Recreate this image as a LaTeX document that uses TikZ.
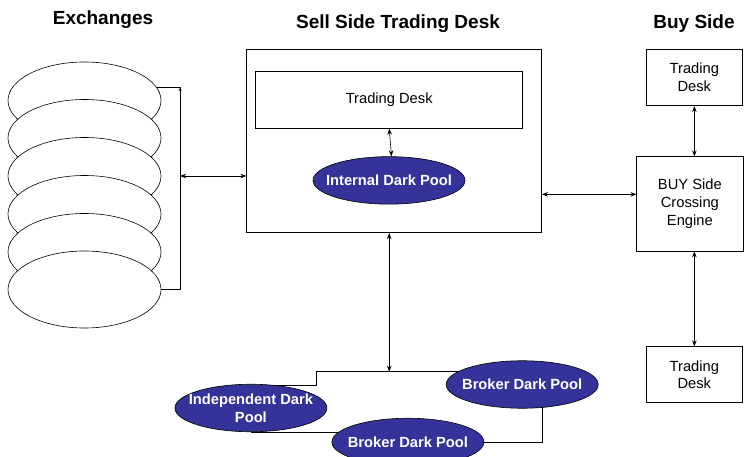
\documentclass[tikz,border=0pt]{standalone}
\usepackage{fontspec}
\setmainfont{Liberation Sans}
\usetikzlibrary{shapes.geometric,arrows.meta}
\definecolor{poolblue}{RGB}{51,51,153}
\tikzset{
  every node/.style={font=\fontsize{14.7}{17.7}\selectfont},
  heading/.style={font=\fontsize{19}{22}\selectfont\bfseries},
  exch/.style={ellipse,draw,fill=white,line width=0.6pt,inner sep=0pt,minimum width=153pt,minimum height=77pt},
  box/.style={draw,line width=0.6pt,inner sep=0pt,align=center},
  pool/.style={ellipse,draw,fill=poolblue,line width=0.6pt,inner xsep=-18pt,inner ysep=-3pt,minimum width=152pt,minimum height=47.5pt,text=white,align=center,font=\fontsize{14.7}{17.7}\selectfont\bfseries},
  link/.style={line width=0.6pt},
  dbl/.style={line width=0.6pt,{Stealth[length=6pt,width=4.5pt]}-{Stealth[length=6pt,width=4.5pt]}},
}
\begin{document}
\begin{tikzpicture}[x=1pt,y=-1pt]
\useasboundingbox (0,0) rectangle (744,457);
% headings
\node[heading] (hex) at (103,20) {Exchanges};
\node[heading] (hsell) at (398,24) {Sell Side Trading Desk};
\node[heading] (hbuy) at (694,24) {Buy Side};
% bracket
\coordinate (bt) at (180,87);
\coordinate (bb) at (180,289);
\coordinate (bm) at (180,176);
\coordinate (b1) at (140,87);
\coordinate (b6) at (140,289);
\draw[link] (b1) -- (bt) -- (bb) -- (b6);
\draw[link,-{Stealth[length=3pt,width=3pt]}] (bm) -- ([yshift=-1pt]bt);
% exchanges
\node[exch] (ex1) at (84.5,100.5) {};
\node[exch] (ex2) at (84.5,138) {};
\node[exch] (ex3) at (84.5,176) {};
\node[exch] (ex4) at (84.5,214) {};
\node[exch] (ex5) at (84.5,252) {};
\node[exch] (ex6) at (84.5,289.5) {};
% sell side
\node[box,minimum width=295pt,minimum height=183.4pt] (sell) at (394.2,141) {};
\node[box,minimum width=267pt,minimum height=57.3pt] (tdesk) at (389.2,99.7) {Trading Desk};
\node[pool] (ipool) at (389,180.4) {Internal Dark Pool};
\draw[dbl] (tdesk.south) -- ([xshift=2.5pt]ipool.north);
\draw[dbl] (bm) -- (bm -| sell.west);
% buy side
\node[box,minimum width=96.7pt,minimum height=56.4pt] (td1) at (694.35,77.5) {Trading\\Desk};
\node[box,minimum width=106.3pt,minimum height=94.3pt] (engine) at (689.85,203.85) {BUY Side\\Crossing\\Engine};
\node[box,minimum width=96.7pt,minimum height=56pt] (td2) at (694.35,374.7) {Trading\\Desk};
\coordinate (se) at (560,194.3);
\draw[dbl] (se -| sell.east) -- (se -| engine.west);
\draw[dbl] (td1.south) -- (td1.south |- engine.north);
\draw[dbl] (td2.north |- engine.south) -- (td2.north);
% dark pools network
\coordinate (j) at (389,371.7);
\coordinate (jl) at (316.7,371.7);
\coordinate (jd) at (316.7,385.7);
\coordinate (jr) at (500,371.7);
\coordinate (jdl) at (251,385.7);
\coordinate (lb) at (251,432.3);
\coordinate (lb2) at (400,432.3);
\coordinate (rr) at (542.3,400);
\coordinate (rb) at (542.3,442.7);
\coordinate (rb2) at (440,442.7);
\draw[link] (jr) -- (jl) -- (jd) -- (jdl);
\draw[link] (lb) -- (lb2);
\draw[link] (rr) -- (rb) -- (rb2);
\node[pool] (bdp1) at (522.2,384.5) {Broker Dark Pool};
\node[pool] (indp) at (250.9,408) {Independent Dark\\Pool};
\node[pool] (bdp2) at (407.9,442) {Broker Dark Pool};
\draw[dbl] (tdesk.center |- sell.south) -- (tdesk.center |- j);
\end{tikzpicture}
\end{document}
